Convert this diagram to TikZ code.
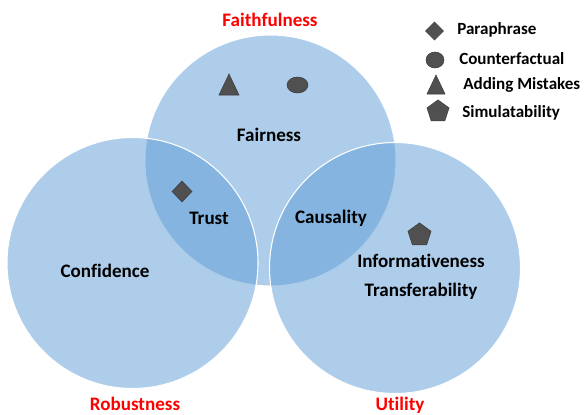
\documentclass[tikz,border=0pt]{standalone}
\usepackage{fontspec}
\setmainfont{Carlito}[Ligatures=NoCommon]
\usetikzlibrary{shapes.geometric}
\definecolor{vennblue}{RGB}{91,155,213}
\definecolor{markgray}{RGB}{80,80,80}
\definecolor{markedge}{RGB}{60,60,60}
\definecolor{lblred}{RGB}{255,0,0}
\begin{document}
\begin{tikzpicture}[x=0.75pt,y=-0.75pt,
  venn/.style={circle, minimum size=188.25pt, inner sep=0pt, fill=vennblue, fill opacity=0.5, draw=white, line width=0.8pt},
  term/.style={font=\bfseries\fontsize{14.3}{16}\selectfont, text=black, inner sep=0pt},
  setlabel/.style={font=\bfseries\fontsize{14.3}{16}\selectfont, text=lblred, inner sep=0pt},
  legtext/.style={font=\bfseries\fontsize{12.8}{15}\selectfont, text=black, anchor=west, inner sep=0pt},
  marker/.style={fill=markgray, draw=markedge, line width=0.4pt, inner sep=0pt},
]
\useasboundingbox (0,0) rectangle (584,414);
% circles
\node[venn] (faith) at (270.5,160.5) {};
\node[venn] (robust) at (132.5,263) {};
\node[venn] (util) at (395,268) {};
% set labels
\node[setlabel] (lfaith) at (270,20) {Faithfulness};
\node[setlabel] (lrobust) at (135,404) {Robustness};
\node[setlabel] (lutil) at (400,405) {Utility};
% terms
\node[term] (fairness) at (269,135) {Fairness};
\node[term] (trust) at (209,218) {Trust};
\node[term] (causality) at (331,218) {Causality};
\node[term] (confidence) at (105,271) {Confidence};
\node[term] (inform) at (421,261) {Informativeness};
\node[term] (transfer) at (421,291) {Transferability};
% markers in the diagram
\fill[marker] (219,95) -- (229,74) -- (239,95) -- cycle;
\node[marker, ellipse, minimum width=15.75pt, minimum height=12pt] (cfmark) at (297.5,85) {};
\node[marker, diamond, minimum width=15pt, minimum height=15.75pt] (ppmark) at (182,191.5) {};
\node[marker, regular polygon, regular polygon sides=5, minimum size=18.2pt] (simmark) at (419.5,235) {};
% legend
\node[marker, diamond, minimum width=13.5pt, minimum height=13.5pt] (legpp) at (434.5,31) {};
\node[legtext] (tpp) at (457,30) {Paraphrase};
\node[marker, ellipse, minimum width=13.5pt, minimum height=12pt] (legcf) at (435,60) {};
\node[legtext] (tcf) at (459,59) {Counterfactual};
\fill[marker] (427,94) -- (436,75) -- (445,94) -- cycle;
\node[legtext] (tam) at (463,85) {Adding Mistakes};
\node[marker, regular polygon, regular polygon sides=5, minimum size=17.4pt] (legsim) at (438,111.5) {};
\node[legtext] (tsim) at (462,113) {Simulatability};
\end{tikzpicture}
\end{document}
